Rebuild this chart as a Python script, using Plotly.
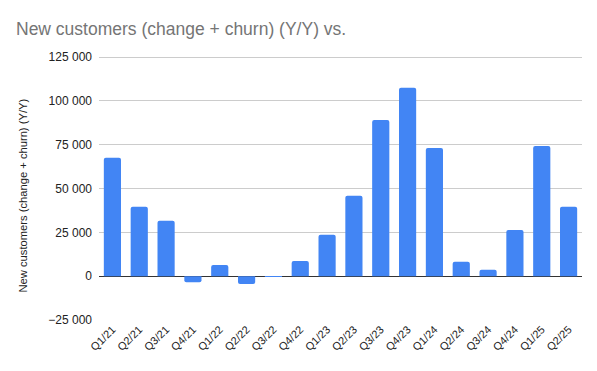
import plotly.graph_objects as go

quarters = ["Q1/21", "Q2/21", "Q3/21", "Q4/21", "Q1/22", "Q2/22", "Q3/22", "Q4/22",
            "Q1/23", "Q2/23", "Q3/23", "Q4/23", "Q1/24", "Q2/24", "Q3/24", "Q4/24",
            "Q1/25", "Q2/25"]
new_customers = [67500, 39600, 31600, -3500, 6300, -4500, -400, 8700,
                 23600, 45900, 89100, 107400, 73100, 8200, 3600, 26300,
                 74300, 39600]
y_ticks = [-25000, 0, 25000, 50000, 75000, 100000, 125000]
y_min, y_max = -25000, 125000

fig = go.Figure()
fig.add_trace(go.Bar(
    x=quarters, y=new_customers,
    marker=dict(color="#4285F4", cornerradius=2, line=dict(width=0)),
))

# page body has an 8px margin; figure sized/offset to compensate
W, H = 589, 363
L, R, T, B = 91, 15, 45, 51
pw, ph = W - L - R, H - T - B
head_px = 4  # headroom above the top gridline so it is drawn
pad = head_px * (y_max - y_min) / (ph - head_px)

fig.update_layout(
    width=W, height=H,
    margin=dict(l=L, r=R, t=T, b=B),
    paper_bgcolor="white", plot_bgcolor="white",
    separators=". ",
    bargap=0.36,
    showlegend=False,
    font=dict(family="Liberation Sans, Arial, sans-serif", color="#222222"),
    title=dict(text="New customers (change + churn) (Y/Y) vs.",
               x=8/W, xanchor="left", xref="container",
               y=1 - 21/H, yanchor="middle", yref="container",
               font=dict(size=17.5, color="#757575")),
    xaxis=dict(tickangle=-45, tickfont=dict(size=11, color="#222222"),
               showgrid=False, showline=False, ticks="", automargin=False),
    yaxis=dict(range=[y_min, y_max + pad], tickvals=y_ticks, tickformat=",d",
               tickfont=dict(size=12, color="#222222"),
               gridcolor="#cccccc", gridwidth=1,
               zeroline=True, zerolinecolor="#333333", zerolinewidth=1,
               showline=False, ticks="", ticklabelstandoff=6, automargin=False),
    annotations=[dict(text="New customers (change + churn) (Y/Y)",
                      xref="paper", yref="paper",
                      x=(14 - L) / pw, y=1 - (187.5 - T) / ph,
                      xanchor="center", yanchor="middle", textangle=-90,
                      showarrow=False, font=dict(size=11.2, color="#222222"))],
)

fig.write_html("out.html")
